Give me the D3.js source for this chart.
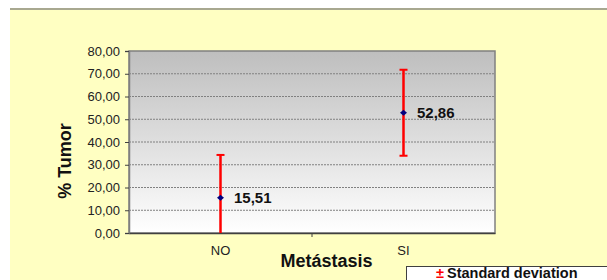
<!DOCTYPE html>
<html><head><meta charset="utf-8">
<script src="https://cdn.jsdelivr.net/npm/d3@7"></script>
<style>html,body{margin:0;padding:0;background:#fff;}svg{display:block;}</style>
</head><body>
<svg id="c" width="607" height="280"></svg>
<script>
const categories = ["NO", "SI"];
const means = [15.51, 52.86];
const sds = [18.8, 18.9];
const meanLabels = ["15,51", "52,86"];
const yTicks = [0, 10, 20, 30, 40, 50, 60, 70, 80];
const yTitle = "% Tumor";
const xTitle = "Metástasis";
const legendText = "Standard deviation";

const svg = d3.select("#c");
const font = "Arial, 'Liberation Sans', sans-serif";

// background panel
svg.append("rect").attr("x",10).attr("y",8).attr("width",597).attr("height",272).attr("fill","#FFFFC2");
svg.append("line").attr("x1",10).attr("x2",607).attr("y1",9).attr("y2",9).attr("stroke","#A8A890").attr("stroke-width",2);

const L=129, R=495, T=51, B=233;
const x = d3.scaleBand().domain(categories).range([L,R]);
const y = d3.scaleLinear().domain([0,80]).range([B,T]);

const defs = svg.append("defs");
const g = defs.append("linearGradient").attr("id","bg").attr("x1",0).attr("x2",0).attr("y1",0).attr("y2",1);
g.append("stop").attr("offset","0%").attr("stop-color","#BEBEBE");
g.append("stop").attr("offset","100%").attr("stop-color","#FFFFFF");
svg.append("rect").attr("x",L).attr("y",T).attr("width",R-L).attr("height",B-T).attr("fill","url(#bg)");

// gridlines
svg.append("g").selectAll("line").data(yTicks.filter(d=>d>0 && d<80)).join("line")
  .attr("x1",L).attr("x2",R).attr("y1",d=>y(d)).attr("y2",d=>y(d))
  .attr("stroke","#808080").attr("stroke-width",1).attr("stroke-dasharray","2,1");

// plot border
svg.append("rect").attr("x",L).attr("y",T).attr("width",R-L).attr("height",B-T)
  .attr("fill","none").attr("stroke","#808080").attr("stroke-width",1.5);

// y axis
const fmt = d=>d3.format(".2f")(d).replace(".",",");
const ya = svg.append("g").attr("transform",`translate(${L},0)`)
  .call(d3.axisLeft(y).tickValues(yTicks).tickFormat(fmt).tickSize(4).tickPadding(5));
ya.select(".domain").attr("stroke","#808080").attr("stroke-width",1.5);
ya.selectAll(".tick line").attr("stroke","#404040");
ya.selectAll("text").attr("font-family",font).attr("font-size",13).attr("fill","#222");

// x axis
const xa = svg.append("g").attr("transform",`translate(0,${B})`)
  .call(d3.axisBottom(x).tickSize(0).tickPadding(13));
xa.select(".domain").attr("stroke","#404040").attr("stroke-width",1.5);
xa.selectAll("text").attr("font-family",font).attr("font-size",13).attr("fill","#222");
// center divider tick
svg.append("line").attr("x1",x("SI")).attr("x2",x("SI")).attr("y1",B).attr("y2",B+4).attr("stroke","#404040");

// error bars
const cx = d=>x(d)+x.bandwidth()/2;
const eb = svg.append("g");
categories.forEach((c,i)=>{
  const lo = Math.max(0, means[i]-sds[i]), hi = means[i]+sds[i];
  eb.append("line").attr("x1",cx(c)).attr("x2",cx(c)).attr("y1",y(lo)).attr("y2",y(hi))
    .attr("stroke","#FF0000").attr("stroke-width",2.5);
  eb.append("line").attr("x1",cx(c)-4).attr("x2",cx(c)+4).attr("y1",y(hi)).attr("y2",y(hi))
    .attr("stroke","#FF0000").attr("stroke-width",2);
  if (means[i]-sds[i] > 0)
    eb.append("line").attr("x1",cx(c)-4).attr("x2",cx(c)+4).attr("y1",y(lo)).attr("y2",y(lo))
      .attr("stroke","#FF0000").attr("stroke-width",2);
});

// markers
svg.append("g").selectAll("path").data(categories).join("path")
  .attr("d",(c,i)=>{const X=cx(c),Y=y(means[i]);return `M${X-3.5},${Y}L${X},${Y-3}L${X+3.5},${Y}L${X},${Y+3}Z`;})
  .attr("fill","#000080");

// labels
svg.append("g").selectAll("text").data(categories).join("text")
  .attr("x",c=>cx(c)+13.5).attr("y",(c,i)=>y(means[i])+5.5)
  .attr("font-family",font).attr("font-size",15).attr("font-weight","bold").attr("fill","#111")
  .text((c,i)=>meanLabels[i]);

// titles
svg.append("text").attr("x",326.5).attr("y",267).attr("text-anchor","middle")
  .attr("font-family",font).attr("font-size",18).attr("font-weight","bold").attr("fill","#111").text(xTitle);
svg.append("text").attr("transform","translate(71,161) rotate(-90)").attr("text-anchor","middle")
  .attr("font-family",font).attr("font-size",18).attr("font-weight","bold").attr("fill","#111").text(yTitle);

// legend
svg.append("rect").attr("x",406.5).attr("y",266.5).attr("width",210).attr("height",30)
  .attr("fill","#fff").attr("stroke","#404040").attr("stroke-width",1);
const lt = svg.append("text").attr("x",436).attr("y",278).attr("font-family",font).attr("font-size",14.5).attr("font-weight","bold");
lt.append("tspan").attr("fill","#FF0000").text("±");
lt.append("tspan").attr("fill","#111").attr("dx",3).text(legendText);
</script>
</body></html>
